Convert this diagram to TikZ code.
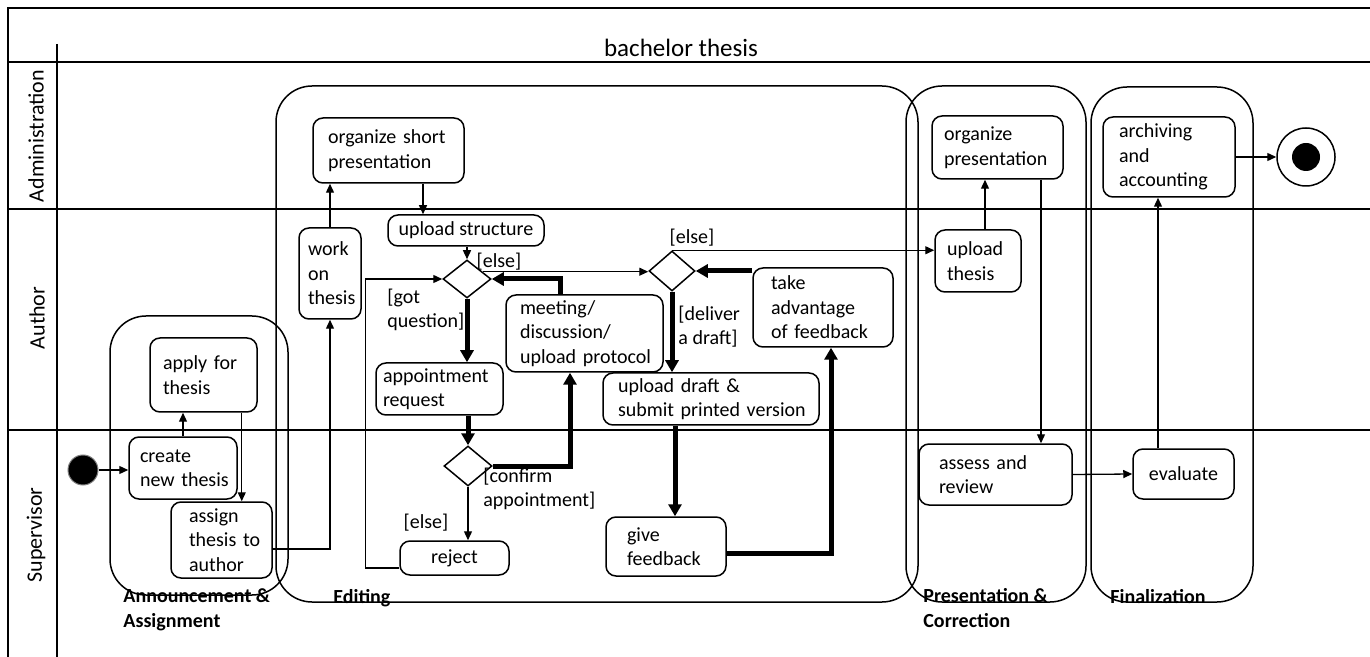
\documentclass[tikz,border=0pt]{standalone}
\usepackage{fontspec}
\setmainfont{Carlito}
\usetikzlibrary{shapes.geometric,arrows.meta,calc}
\begin{document}
\begin{tikzpicture}[x=0.5pt,y=-0.5pt,
  lanefr/.style={line width=0.75pt},
  part/.style={line width=0.75pt, rounded corners=18pt},
  act/.style={draw, line width=0.75pt, rounded corners=5pt, font=\fontsize{10}{12.25}\selectfont, inner ysep=1pt},
  lact/.style n args={4}{act, minimum width=#1pt, minimum height=#2pt, text width=#3pt, inner xsep=#4pt, align=left},
  cact/.style 2 args={act, minimum width=#1pt, minimum height=#2pt, inner xsep=0pt, align=center},
  dec/.style 2 args={draw, diamond, line width=0.75pt, inner sep=0pt, minimum width=#1pt, minimum height=#2pt},
  flow/.style={line width=0.65pt, -{Triangle[length=4.5pt,width=4pt]}},
  hflow/.style={line width=2.5pt, -{Triangle[length=6pt,width=6.5pt]}},
  guard/.style={font=\fontsize{10}{12}\selectfont, inner sep=0pt, align=left},
  plabel/.style={font=\fontsize{10}{12.5}\selectfont\bfseries, inner sep=0pt, align=left, anchor=west},
  lane/.style={font=\fontsize{11}{13}\selectfont, rotate=90, inner sep=0pt}
]
\useasboundingbox (0,0) rectangle (1370,657);

% frame and lanes
\draw[lanefr] (1370,8) -- (8,8) -- (8,657);
\draw[lanefr] (57,44) -- (57,657);
\draw[lanefr] (8,62) -- (1370,62);
\draw[lanefr] (8,209) -- (1370,209);
\draw[lanefr] (8,430) -- (1370,430);
\node[font=\fontsize{12.5}{15}\selectfont, inner sep=0pt] (title) at (681,48) {bachelor thesis};
\node[lane] (lnadm) at (36,136) {Administration};
\node[lane] (lnaut) at (37,318) {Author};
\node[lane] (lnsup) at (36,535) {Supervisor};

% partitions
\draw[part] (110,316) rectangle (288,595);
\draw[part] (276,86) rectangle (918,602);
\draw[part] (906,86) rectangle (1086,602);
\draw[part] (1091,87) rectangle (1253,602);
\node[plabel] (pl1) at (123,609.5) {Announcement \&\\Assignment};
\node[plabel] (pl2) at (333,598) {Editing};
\node[plabel] (pl3) at (923,608) {Presentation \&\\Correction};
\node[plabel] (pl4) at (1110,597) {Finalization};

% start / end
\node[circle, fill=black, draw=gray, line width=0.5pt, minimum size=15pt, inner sep=0pt] (start) at (83,470) {};
\node[circle, draw, line width=0.75pt, minimum size=29pt, inner sep=0pt,
  path picture={\fill[black] (path picture bounding box.center) circle (7pt);}] (endn) at (1306,157) {};

% activities
\node[lact={54}{31}{43}{5.5}] (create) at (183,468) {\mbox{create}\\\mbox{new thesis}};
\node[lact={53.5}{37}{40.5}{6.5}] (apply) at (203.5,375) {\mbox{apply for}\\\mbox{thesis}};
\node[lact={50.5}{38}{32.5}{9}] (assign) at (221.5,540) {\mbox{assign}\\\mbox{thesis to}\\\mbox{author}};
\node[lact={31}{45.5}{22}{4.5}] (work) at (330,273.5) {\mbox{work}\\\mbox{on}\\\mbox{thesis}};
\node[lact={75.5}{32.5}{60.5}{7.5}] (orgshort) at (388.5,150.5) {\mbox{organize short}\\\mbox{presentation}};
\node[cact={78}{15.5}] (upstruct) at (466,230.5) {upload structure};
\node[lact={63.5}{26}{56.5}{3.5}] (appt) at (439.5,389) {\mbox{appointment}\\\mbox{request}};
\node[lact={78.5}{38.5}{64.5}{7}] (meeting) at (584.5,333.5) {\mbox{meeting/}\\\mbox{discussion/}\\\mbox{upload protocol}};
\node[cact={54.5}{17}] (reject) at (454.5,558) {reject};
\node[lact={70}{39.5}{52}{9}] (takeadv) at (823,307.5) {\mbox{take}\\\mbox{advantage}\\\mbox{of feedback}};
\node[lact={108}{26}{93}{7.5}] (updraft) at (711,399) {\mbox{upload draft \&}\\\mbox{submit printed version}};
\node[lact={60}{29.5}{39}{10.5}] (givefb) at (666,546.5) {\mbox{give}\\\mbox{feedback}};
\node[lact={43}{31}{31}{6}] (upthesis) at (978,261) {\mbox{upload}\\\mbox{thesis}};
\node[lact={65.5}{31.5}{53.5}{6}] (orgpres) at (997.5,147.5) {\mbox{organize}\\\mbox{presentation}};
\node[lact={66}{40}{50}{8}] (archiving) at (1169,157) {\mbox{archiving}\\\mbox{and}\\\mbox{accounting}};
\node[lact={76.5}{30.5}{56.5}{10}] (assess) at (995.5,474.5) {\mbox{assess and}\\\mbox{review}};
\node[cact={50.5}{25}] (evaluate) at (1183.5,474) {evaluate};

% decisions
\node[dec={24}{19}] (d1) at (467,279) {};
\node[dec={24}{20}] (d2) at (468,466) {};
\node[dec={23}{20}] (d3) at (672,271) {};

% guards
\node[guard] (g1) at (499,262) {[else]};
\node[guard, anchor=west] (g2) at (387,309.5) {[got\\question]};
\node[guard, anchor=west] (g3) at (483,488.5) {[confirm\\appointment]};
\node[guard] (g4) at (426,523) {[else]};
\node[guard, anchor=west] (g5) at (678,327) {[deliver\\a draft]};
\node[guard] (g6) at (692,238) {[else]};

% connectors
\draw[flow] (start) -- (start -| create.west);
\draw[flow] (create.north) -- (create.north |- apply.south);
\coordinate (k3) at ($(apply.south east)+(-16,0)$);
\draw[flow] (k3) -- (k3 |- assign.north);
\draw[flow] ($(assign.east)+(0,9)$) -| (work.south);
\draw[flow] (work.north) -- (work.north |- orgshort.south);
\coordinate (k6) at ($(orgshort.south)+(34.5,0)$);
\draw[flow] (k6) -- (k6 |- upstruct.north);
\draw[flow] (upstruct.south -| d1.north) -- (d1.north);
\draw[flow] (d1.25) -- (d1.25 -| d3.west);
\draw[hflow] (d1.south) -- (d1.south |- appt.north);
\draw[hflow] (appt.south -| d2.north) -- (d2.north);
\coordinate (k11) at ($(meeting.south)+(-14.5,0)$);
\draw[hflow] (d2.east) -| (k11);
\coordinate (k12) at ($(meeting.north)+(-24.5,0)$);
\draw[hflow] (k12) |- (d1.east);
\draw[flow] (d2.south) -- (d2.south |- reject.north);
\coordinate (k14) at ($(d1.west)+(-77,0)$);
\draw[flow] ($(reject.west)+(0,10)$) -| (k14) -- (d1.west);
\draw[hflow] (d3.south) -- (d3.south |- updraft.north);
\draw[hflow] (d3.east -| takeadv.west) -- (d3.east);
\coordinate (k17) at ($(givefb.north)+(9,0)$);
\draw[hflow] (updraft.south -| k17) -- (k17);
\draw[hflow] ($(givefb.east)+(0,6.5)$) -| ($(takeadv.south)+(8,0)$);
\draw[flow] (d3.north) -- (d3.north -| upthesis.west);
\coordinate (k20) at ($(upthesis.north)+(7,0)$);
\draw[flow] (k20) -- (k20 |- orgpres.south);
\coordinate (k21) at ($(orgpres.south)+(43.5,0)$);
\draw[flow] (k21) -- (k21 |- assess.north);
\draw[flow] (assess.east) -- (evaluate.west);
\coordinate (k23) at ($(evaluate.north)+(-25.5,0)$);
\draw[flow] (k23) -- (k23 |- archiving.south);
\draw[flow] (archiving.east) -- (endn.west);
\end{tikzpicture}
\end{document}
